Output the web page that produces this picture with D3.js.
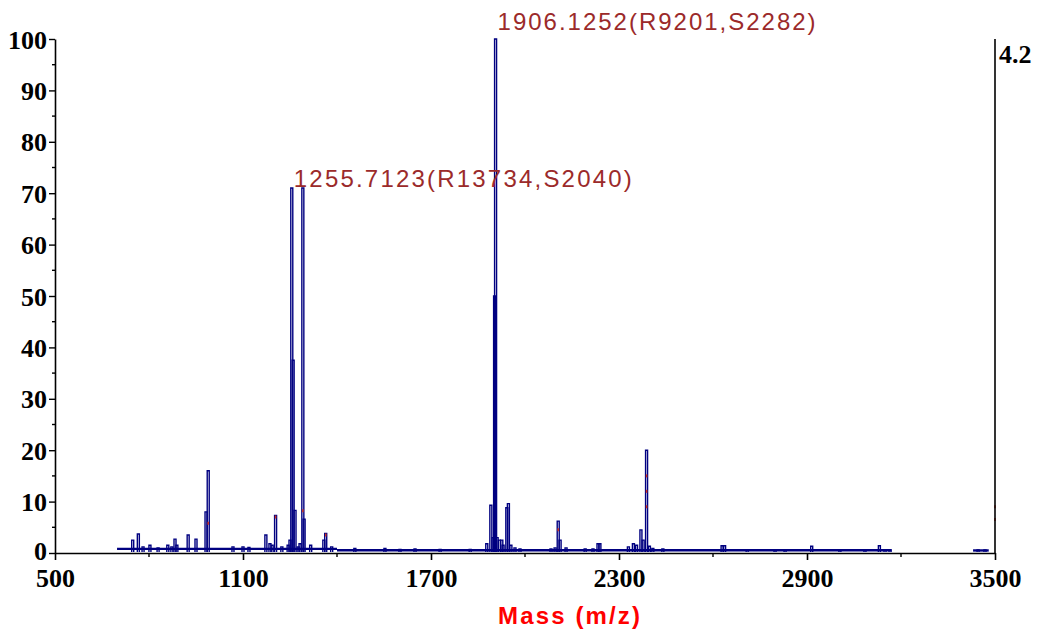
<!DOCTYPE html>
<html lang="en">
  <head>
    <meta charset="UTF-8">
    <title>Mass spectrum</title>
    <style>
      body { margin: 0; background: #fff; }
      .tick-label { font-family: "Liberation Serif", serif; font-weight: bold; font-size: 26px; fill: #000; }
      .peak { fill: none; stroke: #000080; stroke-width: 1.4; }
      .base { fill: none; stroke: #000080; stroke-width: 2.4; }
      .axis-line { stroke: #000; stroke-width: 1.6; }
    </style>
  </head>
  <body>
    <svg id="chart"></svg>
    <script src="https://cdn.jsdelivr.net/npm/d3@7/dist/d3.min.js"></script>
    <script>
      // peak list: mass (m/z), relative intensity (%)
      var peakMass = [748, 766, 781, 803, 829, 860, 873, 883, 889, 925, 950, 982, 989,
                      1068, 1100, 1119, 1173, 1186, 1193, 1204, 1224, 1244, 1250, 1255.7, 1260, 1266,
                      1276, 1282, 1291, 1295, 1316, 1358, 1364, 1383, 1457, 1553, 1601, 1649, 1729,
                      1825, 1878, 1891, 1898, 1903, 1906.1, 1911, 1918, 1926, 1930, 1942, 1947, 1955,
                      1968, 1984, 2083, 2096, 2106, 2112, 2131, 2192, 2217, 2233, 2239, 2330, 2346,
                      2356, 2370, 2377, 2388, 2397, 2408, 2440, 2629, 2637, 2709, 2798, 2830, 2915,
                      3005, 3085, 3131, 3149, 3165, 3446, 3468];
      var peakInt  = [2.5, 3.7, 1.2, 1.5, 1.0, 1.5, 1.2, 2.7, 1.5, 3.5, 2.7, 8.0, 16,
                      1.2, 1.2, 1.1, 3.5, 1.8, 1.5, 7.3, 1.2, 1.5, 2.5, 71, 37.5, 8.3,
                      1.2, 1.8, 71, 6.6, 1.5, 2.5, 3.8, 1.2, 0.9, 0.9, 0.7, 0.8, 0.7,
                      0.7, 1.8, 9.3, 3.0, 50, 100, 3.0, 2.5, 2.5, 1.5, 8.8, 9.6, 1.5,
                      1.0, 0.8, 0.8, 1.0, 6.2, 2.5, 1.0, 0.8, 0.8, 1.8, 1.8, 1.2, 1.8,
                      1.5, 4.5, 2.5, 20, 1.3, 0.9, 0.8, 1.4, 1.4, 0.6, 0.5, 0.5, 1.3,
                      0.5, 0.5, 1.4, 0.6, 0.6, 0.6, 0.6];

      // baseline stretches: start mass, end mass, level
      var baseStart = [698, 1400, 3430];
      var baseEnd   = [1400, 3170, 3480];
      var baseLevel = [0.6, 0.35, 0.3];

      // small red centroid marks: mass, intensity
      var markMass = [989, 1204, 1291, 1364, 2106, 2388, 2388, 2388, 3500, 3500];
      var markInt  = [5.8, 7.0, 8.2, 3.5, 4.5, 9, 12, 15, 6.5, 9];

      var labelMass = [1906.1252, 1255.7123];
      var labelText = ["1906.1252(R9201,S2282)", "1255.7123(R13734,S2040)"];
      var labelWidth = [318, 338];

      var xTicks = [500, 1100, 1700, 2300, 2900, 3500];
      var xMinor = [800, 1400, 2000, 2600, 3200];
      var yTicks = [0, 10, 20, 30, 40, 50, 60, 70, 80, 90, 100];
      var yMinor = [5, 15, 25, 35, 45, 55, 65, 75, 85, 95];

      var width = 1042, height = 633;
      var svg = d3.select("#chart").attr("width", width).attr("height", height);

      var x = d3.scaleLinear().domain([500, 3500]).range([55, 995]);
      var y = d3.scaleLinear().domain([0, 100]).range([553, 39]);

      // baseline
      svg.selectAll(".base")
        .data(baseStart)
        .enter().append("line")
        .attr("class", "base")
        .attr("x1", function(d) { return x(d); })
        .attr("x2", function(d, i) { return x(baseEnd[i]); })
        .attr("y1", function(d, i) { return y(baseLevel[i]) - 1; })
        .attr("y2", function(d, i) { return y(baseLevel[i]) - 1; });

      // peaks as narrow outlined profiles
      svg.selectAll(".peak")
        .data(peakMass)
        .enter().append("path")
        .attr("class", "peak")
        .attr("d", function(d, i) {
          var cx = x(d), top = y(peakInt[i]), b = y(0) - 1;
          return "M" + (cx - 1) + "," + b + "V" + top + "H" + (cx + 1) + "V" + b;
        });

      svg.selectAll(".mark")
        .data(markMass)
        .enter().append("line")
        .attr("stroke", "#d03020")
        .attr("stroke-width", 1.5)
        .attr("x1", function(d) { return x(d); })
        .attr("x2", function(d) { return x(d); })
        .attr("y1", function(d, i) { return y(markInt[i]) - 1.5; })
        .attr("y2", function(d, i) { return y(markInt[i]) + 1.5; });

      // axes
      var xAxis = svg.append("g").attr("transform", "translate(0," + y(0) + ")")
        .call(d3.axisBottom(x).tickValues(xTicks).tickSize(7).tickSizeOuter(0).tickFormat(d3.format("d")));
      xAxis.select(".domain").attr("stroke-width", 1.6);
      xAxis.selectAll(".tick line").attr("stroke-width", 1.6);
      xAxis.selectAll("text").attr("class", "tick-label").attr("y", 11).attr("dy", "0.9em");

      svg.append("g").attr("transform", "translate(0," + y(0) + ")")
        .selectAll("line").data(xMinor).enter().append("line")
        .attr("stroke", "#000").attr("stroke-width", 1.4)
        .attr("x1", function(d) { return x(d); }).attr("x2", function(d) { return x(d); })
        .attr("y1", 0).attr("y2", 4);

      var yAxis = svg.append("g").attr("transform", "translate(" + x(500) + ",0)")
        .call(d3.axisLeft(y).tickValues(yTicks).tickSize(6).tickSizeOuter(0));
      yAxis.select(".domain").attr("stroke-width", 1.6);
      yAxis.selectAll(".tick line").attr("stroke-width", 1.4);
      yAxis.selectAll("text").attr("class", "tick-label").attr("x", -8)
        .attr("dy", function(d) { return d === 0 ? "0.25em" : "0.35em"; });

      svg.append("g").attr("transform", "translate(" + x(500) + ",0)")
        .selectAll("line").data(yMinor).enter().append("line")
        .attr("stroke", "#000").attr("stroke-width", 1.4)
        .attr("x1", -3).attr("x2", 0)
        .attr("y1", function(d) { return y(d); }).attr("y2", function(d) { return y(d); });

      // right axis
      svg.append("line").attr("class", "axis-line")
        .attr("x1", x(3500)).attr("x2", x(3500))
        .attr("y1", y(100)).attr("y2", y(0));
      svg.append("text").attr("class", "tick-label")
        .attr("x", x(3500) + 4).attr("y", y(100) + 24)
        .style("font-size", "26px")
        .text("4.2");

      // peak labels
      svg.selectAll(".plabel")
        .data(labelMass)
        .enter().append("text")
        .attr("class", "plabel")
        .attr("x", function(d) { return x(d) + 2; })
        .attr("y", function(d, i) { return i === 0 ? 30 : 187; })
        .attr("textLength", function(d, i) { return labelWidth[i]; })
        .attr("lengthAdjust", "spacing")
        .style("font-family", "'Liberation Sans', Arial, sans-serif")
        .style("font-size", "24px")
        .style("fill", "#9b2a2a")
        .text(function(d, i) { return labelText[i]; });

      svg.append("text")
        .attr("x", 498).attr("y", 624)
        .attr("textLength", 142)
        .attr("lengthAdjust", "spacing")
        .style("font-family", "'Liberation Sans', Arial, sans-serif")
        .style("font-weight", "bold")
        .style("font-size", "24px")
        .style("fill", "#ff0000")
        .text("Mass (m/z)");
    </script>
  </body>
</html>
